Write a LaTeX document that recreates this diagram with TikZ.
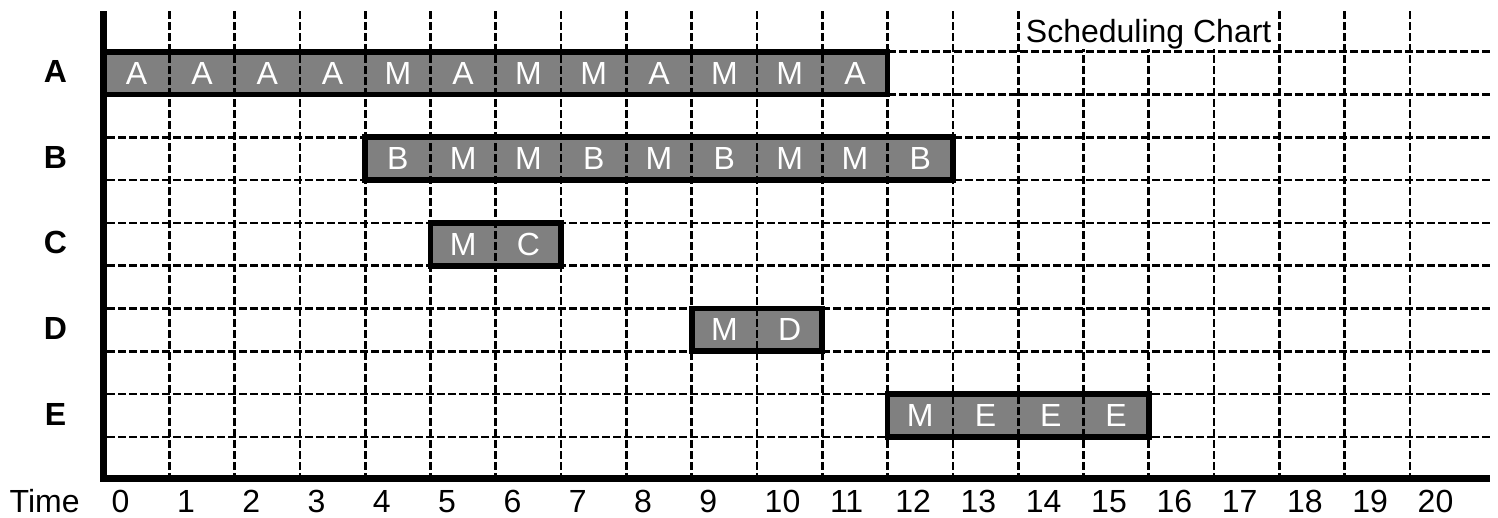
\documentclass[tikz,border=0pt]{standalone}
\usepackage{fontspec}
\setmainfont{Liberation Sans}
\definecolor{barg}{HTML}{808080}
\newcommand\ganttfill[3]{\fill[barfill] ({104+65.3*#2},#1) rectangle ({104+65.3*#3},{#1+42.8});}
\newcommand\ganttrow[5]{%
  \draw[barline] ({104+65.3*#3},#2) rectangle ({104+65.3*#4},{#2+42.8});
  \foreach \c [count=\i from 0] in {#5} {\node[cell] (#1\i) at ({104+65.3*(#3+\i+0.5)},{#2+21.4}) {\c};}%
}
\begin{document}
\begin{tikzpicture}[x=1pt,y=-1pt,
  gridline/.style={line width=2.7pt, dash pattern=on 7.5pt off 3.5pt},
  barfill/.style={fill=barg},
  barline/.style={line width=5.7pt, line join=miter},
  axisline/.style={line width=6.6pt, line join=miter},
  cell/.style={text=white, inner sep=0pt, font=\fontsize{32}{36}\selectfont},
  rowlab/.style={inner sep=0pt, font=\fontsize{32}{36}\selectfont\bfseries},
  timelab/.style={inner sep=0pt, anchor=base west, font=\fontsize{32}{36}\selectfont}]
\useasboundingbox (0,0) rectangle (1498,517);
\fill[white] (0,0) rectangle (1498,517);
% bar fills
\ganttfill{51.7}{0}{12}
\ganttfill{137.3}{4}{13}
\ganttfill{222.9}{5}{7}
\ganttfill{308.5}{9}{11}
\ganttfill{394.1}{12}{16}
% grid
\foreach \t in {1,...,20} {\draw[gridline] ({104+65.3*\t},11) -- ({104+65.3*\t},475);}
\foreach \yy in {51.7,94.5,137.3,180.1,222.9,265.7,308.5,351.3,394.1,436.9} {\draw[gridline] (107,\yy) -- (1493,\yy);}
% title
\node[fill=white, inner sep=0pt, text height=32pt, text depth=7pt, minimum width=255pt, anchor=base west,
  font=\fontsize{32}{36}\selectfont] (title) at (1021,42) {Scheduling Chart};
% bars
\ganttrow{a}{51.7}{0}{12}{A,A,A,A,M,A,M,M,A,M,M,A}
\ganttrow{b}{137.3}{4}{13}{B,M,M,B,M,B,M,M,B}
\ganttrow{c}{222.9}{5}{7}{M,C}
\ganttrow{d}{308.5}{9}{11}{M,D}
\ganttrow{e}{394.1}{12}{16}{M,E,E,E}
% axes
\coordinate (top) at (103.5,11);
\coordinate (origin) at (103.5,478.3);
\coordinate (right) at (1490,478.3);
\draw[axisline] (top) -- (origin) -- (right);
% row labels
\node[rowlab] (la) at (55.5,71.7) {A};
\node[rowlab] (lb) at (55.5,157.3) {B};
\node[rowlab] (lc) at (55.5,242.9) {C};
\node[rowlab] (ld) at (55.5,328.5) {D};
\node[rowlab] (le) at (55.5,414.1) {E};
% time labels
\node[timelab] (time) at (9.5,512) {Time};
\foreach \t in {0,...,20} {\node[timelab] (t\t) at ({104+65.3*\t+7.5},512) {\t};}
\end{tikzpicture}
\end{document}
